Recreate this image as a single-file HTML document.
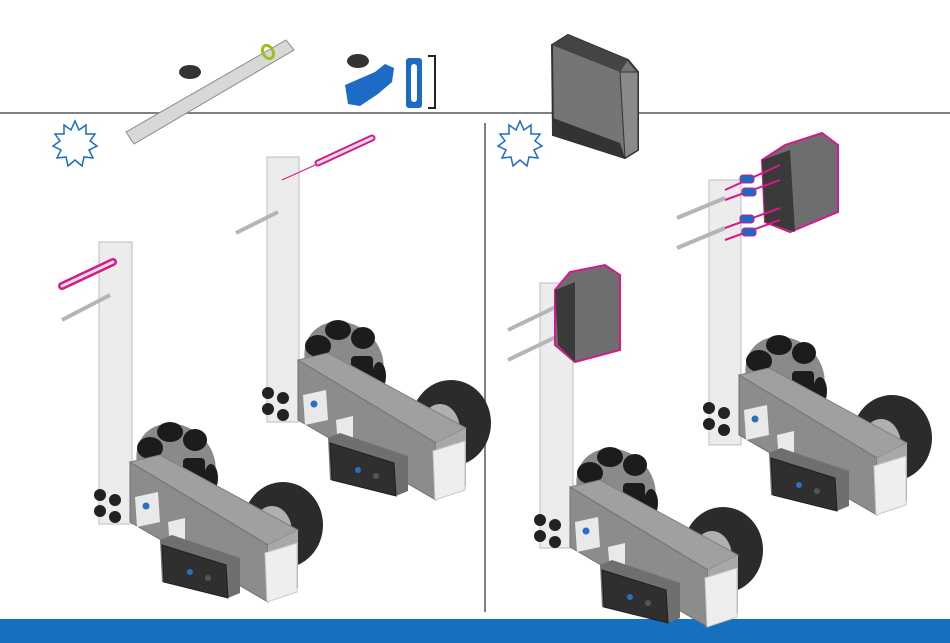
<!DOCTYPE html>
<html><head><meta charset="utf-8"><style>
html,body{margin:0;padding:0;background:#fff;}
svg{display:block;}
</style></head><body>
<svg width="950" height="643" viewBox="0 0 950 643" xmlns="http://www.w3.org/2000/svg">
<defs>
  <g id="base">
    <!-- omni wheel -->
    <ellipse cx="176" cy="462" rx="42" ry="36" transform="rotate(40 176 462)" fill="#8a8a8a"/>
    <g fill="#1c1c1c">
      <ellipse cx="150" cy="448" rx="13" ry="11"/>
      <ellipse cx="170" cy="432" rx="13" ry="10"/>
      <ellipse cx="195" cy="440" rx="12" ry="11"/>
      <rect x="183" y="458" width="22" height="22" rx="4"/>
      <ellipse cx="211" cy="478" rx="7" ry="14"/>
    </g>
    <!-- tire -->
    <ellipse cx="283" cy="525" rx="40" ry="43" fill="#2b2b2b"/>
    <ellipse cx="272" cy="532" rx="20" ry="26" fill="#b0b0b0"/>
    <!-- chassis -->
    <polygon points="130,462 160,455 298,530 268,545" fill="#a0a0a0" stroke="#808080"/>
    <polygon points="130,462 268,545 268,602 130,522" fill="#8c8c8c" stroke="#707070"/>
    <polygon points="268,545 298,530 298,588 268,602" fill="#a8a8a8"/>
    <polygon points="135,497 158,492 160,522 137,527" fill="#e9e9e9"/>
    <circle cx="146" cy="506" r="3.5" fill="#2a6fc0"/>
    <polygon points="168,522 185,518 185,545 170,548" fill="#e9e9e9"/>
    <!-- brain -->
    <polygon points="160,540 172,535 240,558 240,593 228,598 162,582" fill="#6f6f6f"/>
    <polygon points="162,545 226,565 228,598 164,582" fill="#2f2f2f" stroke="#1e1e1e"/>
    <circle cx="190" cy="572" r="3" fill="#2a6fc0"/>
    <circle cx="208" cy="578" r="3" fill="#555"/>
    <!-- white block -->
    <polygon points="265,553 297,543 297,592 267,602" fill="#eeeeee" stroke="#c8c8c8"/>
    <!-- knobs -->
    <circle cx="100" cy="495" r="6" fill="#222"/>
    <circle cx="115" cy="500" r="6" fill="#222"/>
    <circle cx="100" cy="511" r="6" fill="#222"/>
    <circle cx="115" cy="517" r="6" fill="#222"/>
  </g>
</defs>

<!-- dividers -->
<line x1="0" y1="113" x2="950" y2="113" stroke="#808080" stroke-width="2"/>
<line x1="485" y1="123" x2="485" y2="612" stroke="#808080" stroke-width="2"/>
<rect x="0" y="619" width="950" height="24" fill="#1570bf"/>

<!-- parts at top -->
<polygon points="126,132 286,40 294,50 134,144" fill="#d8d8d8" stroke="#8a8a8a"/>
<ellipse cx="268" cy="52" rx="5" ry="7" transform="rotate(-30 268 52)" fill="none" stroke="#9bc21a" stroke-width="3"/>
<ellipse cx="190" cy="72" rx="11" ry="7" fill="#333"/>
<ellipse cx="358" cy="61" rx="11" ry="7" fill="#333"/>
<polygon points="345,85 375,72 385,64 394,68 392,82 378,94 360,106 348,104" fill="#1d6bc4"/>
<rect x="406" y="58" width="16" height="50" rx="3" fill="#1d6bc4"/>
<rect x="411" y="64" width="6" height="38" rx="3" fill="#fff"/>
<path d="M428 56 H435 V108 H428" fill="none" stroke="#222" stroke-width="2"/>

<!-- sensor box top -->
<polygon points="552,45 568,35 628,60 638,72 638,150 625,158 553,135" fill="#757575" stroke="#333" stroke-width="2"/>
<polygon points="552,45 568,35 628,60 620,72" fill="#444"/>
<polygon points="553,118 620,143 625,158 553,135" fill="#333"/>
<polygon points="620,72 638,72 638,150 625,158" fill="#8a8a8a" stroke="#333"/>

<!-- stars -->
<g fill="none" stroke="#1d6bc4" stroke-width="1.5">
<polygon id="star" points="75,121 79,130 86,125 86,134 95,134 90,141 97,146 89,150 93,158 84,157 82,166 75,160 68,166 66,157 57,158 61,150 53,146 60,141 55,134 64,134 64,125 71,130"/>
<use href="#star" transform="translate(445,0)"/>
</g>

<!-- Robot A -->
<rect x="99" y="242" width="33" height="282" fill="#ececec" stroke="#bdbdbd"/>
<line x1="62" y1="320" x2="110" y2="295" stroke="#b5b5b5" stroke-width="4"/>
<line x1="62" y1="286" x2="113" y2="262" stroke="#d6198c" stroke-width="8" stroke-linecap="round"/>
<line x1="62" y1="286" x2="113" y2="262" stroke="#ddd" stroke-width="3" stroke-linecap="round"/>
<use href="#base"/>

<!-- Robot B -->
<rect x="267" y="157" width="32" height="265" fill="#ececec" stroke="#bdbdbd"/>
<line x1="236" y1="233" x2="278" y2="212" stroke="#b5b5b5" stroke-width="4"/>
<line x1="282" y1="180" x2="375" y2="138" stroke="#d6198c" stroke-width="1"/>
<line x1="318" y1="163" x2="372" y2="138" stroke="#d6198c" stroke-width="7" stroke-linecap="round"/>
<line x1="318" y1="163" x2="372" y2="138" stroke="#ddd" stroke-width="3" stroke-linecap="round"/>
<use href="#base" transform="translate(168,-102)"/>

<!-- Robot C -->
<rect x="540" y="283" width="33" height="265" fill="#ececec" stroke="#bdbdbd"/>
<line x1="508" y1="330" x2="560" y2="305" stroke="#b5b5b5" stroke-width="4"/>
<line x1="508" y1="360" x2="560" y2="335" stroke="#b5b5b5" stroke-width="4"/>
<polygon points="555,290 570,272 605,265 620,275 620,350 575,362 555,345" fill="#6e6e6e" stroke="#d6198c" stroke-width="2"/>
<polygon points="555,290 575,282 575,362 558,345" fill="#3a3a3a"/>
<use href="#base" transform="translate(440,25)"/>

<!-- Robot D -->
<rect x="709" y="180" width="32" height="265" fill="#ececec" stroke="#bdbdbd"/>
<line x1="677" y1="218" x2="725" y2="198" stroke="#b5b5b5" stroke-width="4"/>
<line x1="677" y1="248" x2="725" y2="228" stroke="#b5b5b5" stroke-width="4"/>
<polygon points="762,160 785,145 822,133 838,145 838,212 790,232 765,222" fill="#6e6e6e" stroke="#d6198c" stroke-width="2"/>
<polygon points="762,160 790,150 795,232 765,222" fill="#3a3a3a"/>
<g stroke="#d6198c" stroke-width="2">
<line x1="725" y1="190" x2="780" y2="165"/><line x1="725" y1="200" x2="780" y2="180"/>
<line x1="725" y1="228" x2="780" y2="208"/><line x1="725" y1="240" x2="780" y2="220"/>
</g>
<g fill="#1d6bc4" stroke="#d6198c" stroke-width="1">
<rect x="740" y="175" width="14" height="8" rx="3"/><rect x="742" y="188" width="14" height="8" rx="3"/>
<rect x="740" y="215" width="14" height="8" rx="3"/><rect x="742" y="228" width="14" height="8" rx="3"/>
</g>
<use href="#base" transform="translate(609,-87)"/>
</svg>
</body></html>
